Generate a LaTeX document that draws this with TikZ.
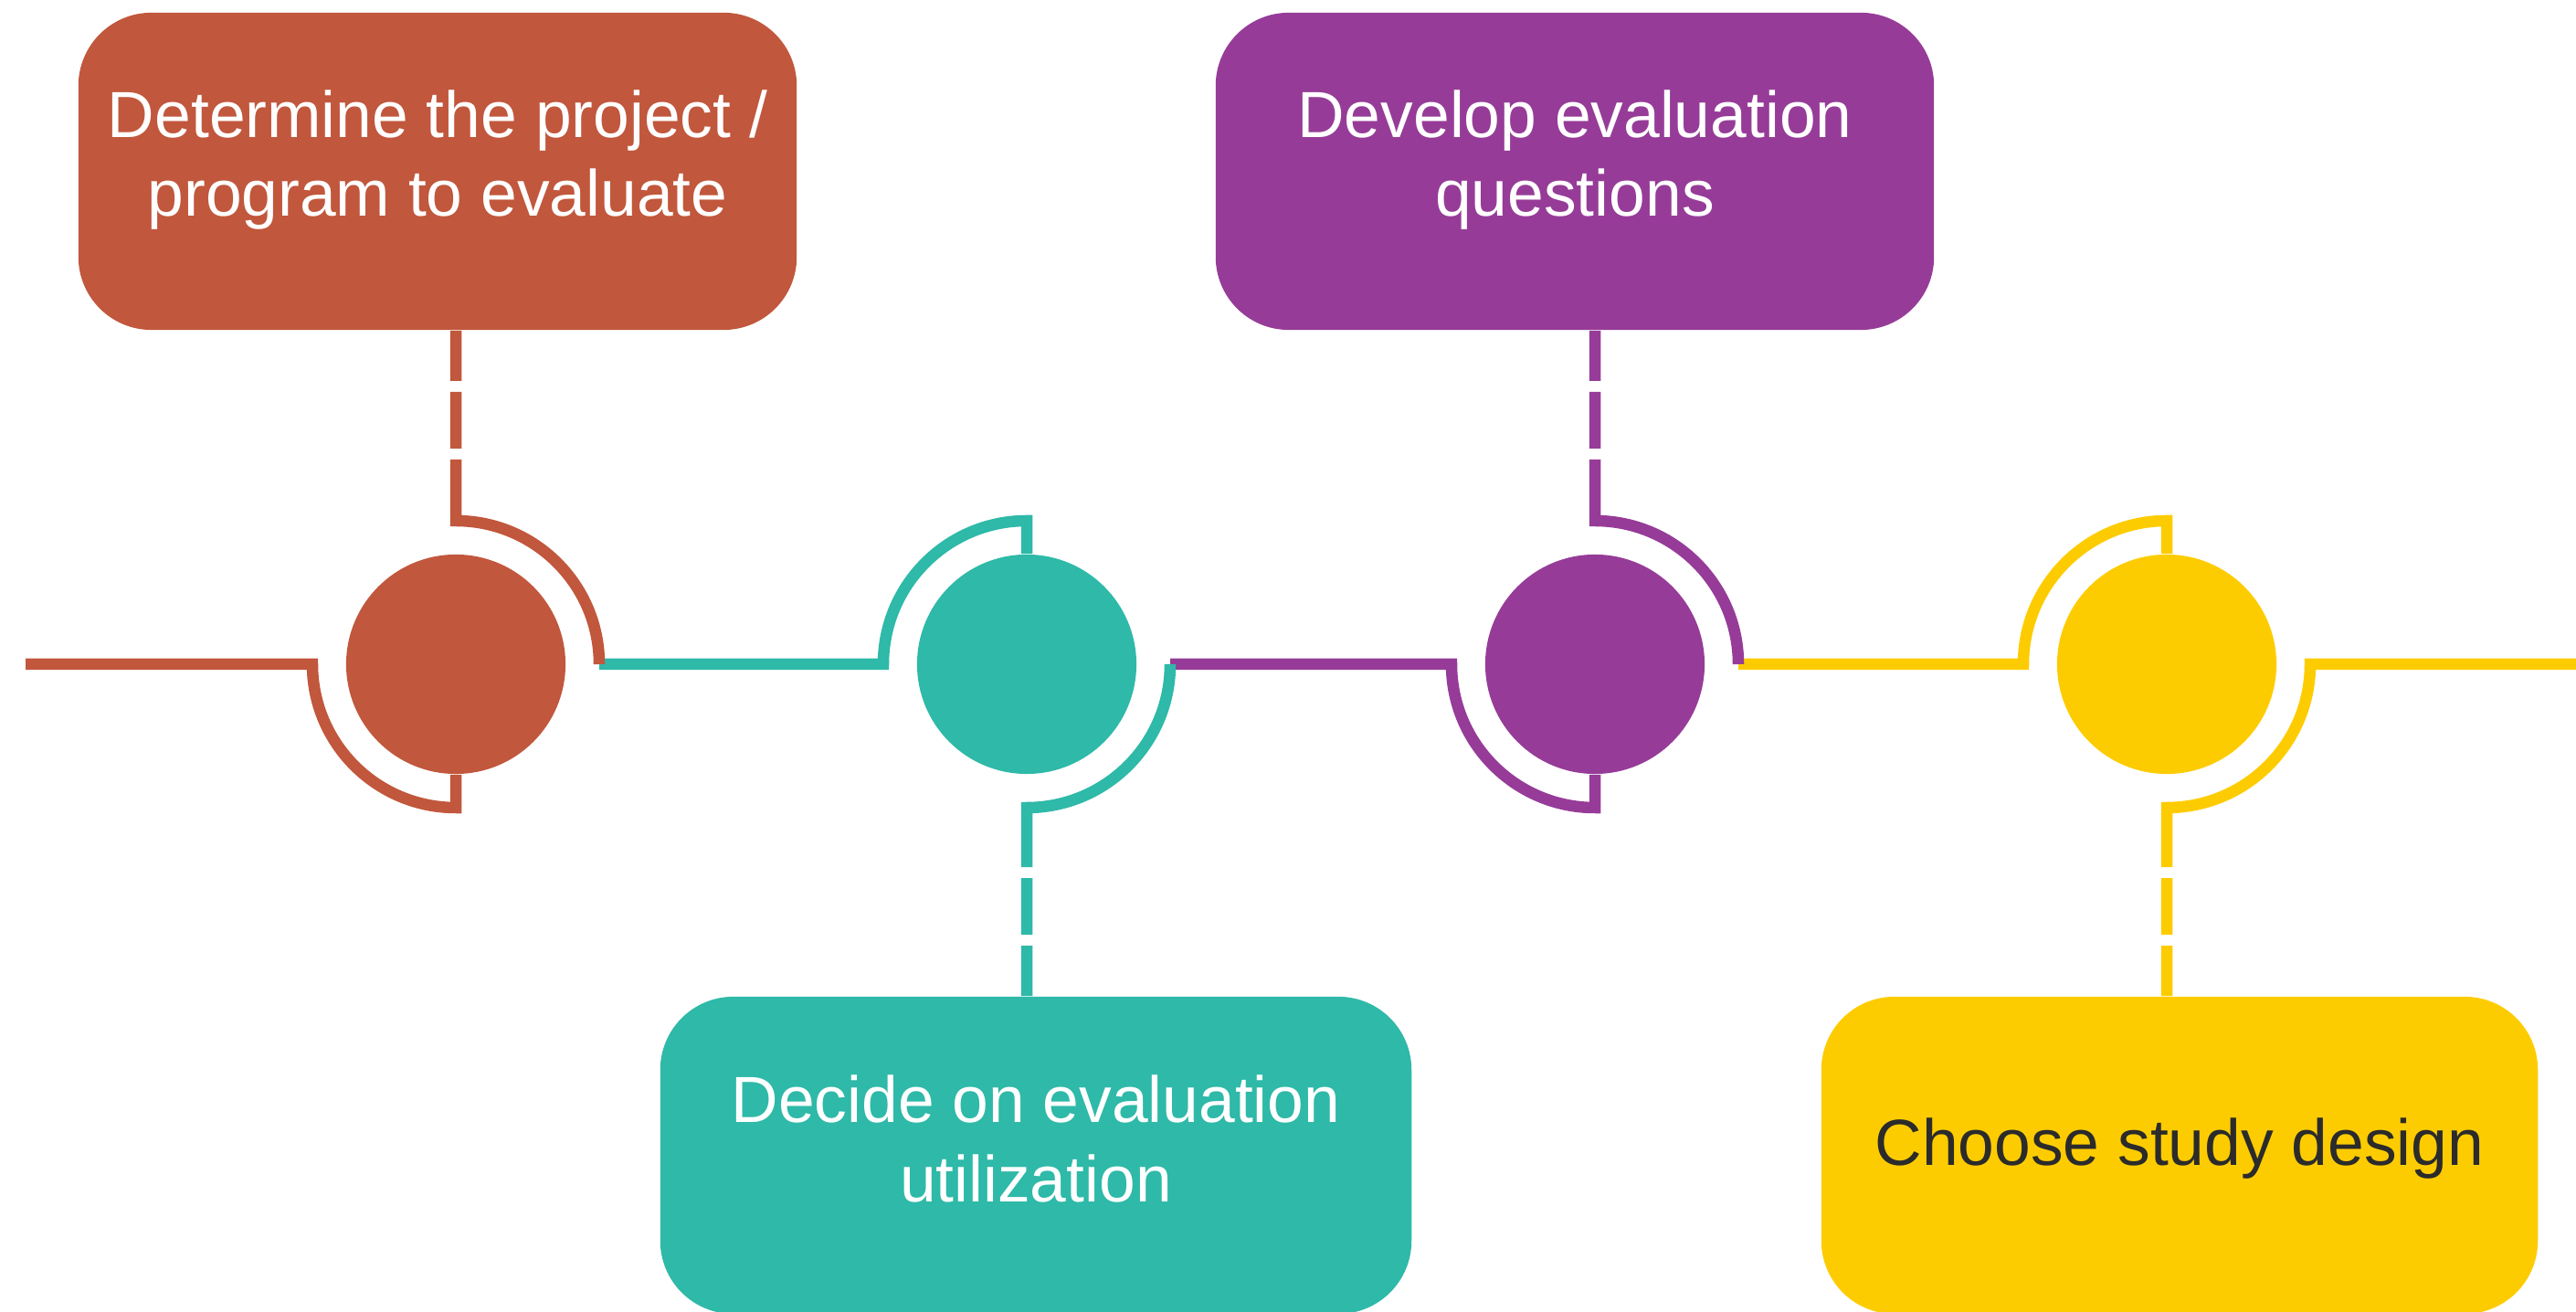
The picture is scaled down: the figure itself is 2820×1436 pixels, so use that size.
\documentclass[tikz,border=0pt]{standalone}
\usepackage{fontspec}
\setmainfont{Liberation Sans}
\usetikzlibrary{calc}
\definecolor{corange}{HTML}{C1573C}
\definecolor{cteal}{HTML}{2EB9A8}
\definecolor{cpurple}{HTML}{963C98}
\definecolor{cyellow}{HTML}{FDCC00}
\definecolor{cdark}{HTML}{2B2B2B}
\begin{document}
\begin{tikzpicture}[x=0.01cm,y=0.01cm,
  conn/.style={line width=0.125cm, line join=miter},
  dashconn/.style={conn, dash pattern=on 0.55cm off 0.12cm on 0.62cm off 0.12cm on 40cm},
  dot/.style={circle, draw=none, inner sep=0pt, minimum size=2.4cm},
  card/.style={rectangle, draw=none, rounded corners=0.8cm, inner sep=0pt, minimum height=3.47cm},
  lbl/.style={anchor=base, inner sep=0pt, font=\fontsize{20.3}{24}\selectfont}]
\useasboundingbox (0,0) rectangle (2820,1436);

% boxes
\node[card, fill=corange, minimum width=7.86cm] (b1) at (479,1248.5) {};
\node[card, fill=cpurple, minimum width=7.86cm] (b2) at (1724,1248.5) {};
\node[card, fill=cteal, minimum width=8.22cm] (b3) at (1134,171.5) {};
\node[card, fill=cyellow, minimum width=7.84cm] (b4) at (2386,171.5) {};

% labels
\node[lbl, text=white] (t1a) at (479,1285) {Determine the project /};
\node[lbl, text=white] (t1b) at (479,1199) {program to evaluate};
\node[lbl, text=white] (t2a) at (1724,1285) {Develop evaluation};
\node[lbl, text=white] (t2b) at (1724,1199) {questions};
\node[lbl, text=white] (t3a) at (1134,207) {Decide on evaluation};
\node[lbl, text=white] (t3b) at (1134,120) {utilization};
\node[lbl, text=cdark] (t4a) at (2386,160) {Choose study design};

% circles
\node[dot, fill=corange] (c1) at (499,709) {};
\node[dot, fill=cteal] (c2) at (1124,709) {};
\node[dot, fill=cpurple] (c3) at (1746,709) {};
\node[dot, fill=cyellow] (c4) at (2372,709) {};

\coordinate (lstart) at (28,709);
\coordinate (lend) at (2820,709);

% timeline segments with arcs
\draw[conn, draw=corange] (lstart) -- ($(c1)+(-157,0)$) arc[start angle=180, end angle=270, radius=157] -- (c1.south);
\draw[conn, draw=cteal] ($(c1)+(157,0)$) -- ($(c2)+(-157,0)$) arc[start angle=180, end angle=90, radius=157] -- (c2.north);
\draw[conn, draw=cpurple] ($(c2)+(157,0)$) -- ($(c3)+(-157,0)$) arc[start angle=180, end angle=270, radius=157] -- (c3.south);
\draw[conn, draw=cyellow] ($(c3)+(157,0)$) -- ($(c4)+(-157,0)$) arc[start angle=180, end angle=90, radius=157] -- (c4.north);

% dashed connectors from boxes
\draw[dashconn, draw=corange] (b1.south -| c1) -- ($(c1)+(0,157)$) arc[start angle=90, end angle=0, radius=157];
\draw[dashconn, draw=cteal] (b3.north -| c2) -- ($(c2)+(0,-157)$) arc[start angle=270, end angle=360, radius=157];
\draw[dashconn, draw=cpurple] (b2.south -| c3) -- ($(c3)+(0,157)$) arc[start angle=90, end angle=0, radius=157];
\draw[dashconn, draw=cyellow] (b4.north -| c4) -- ($(c4)+(0,-157)$) arc[start angle=270, end angle=360, radius=157] -- (lend);
\end{tikzpicture}
\end{document}
